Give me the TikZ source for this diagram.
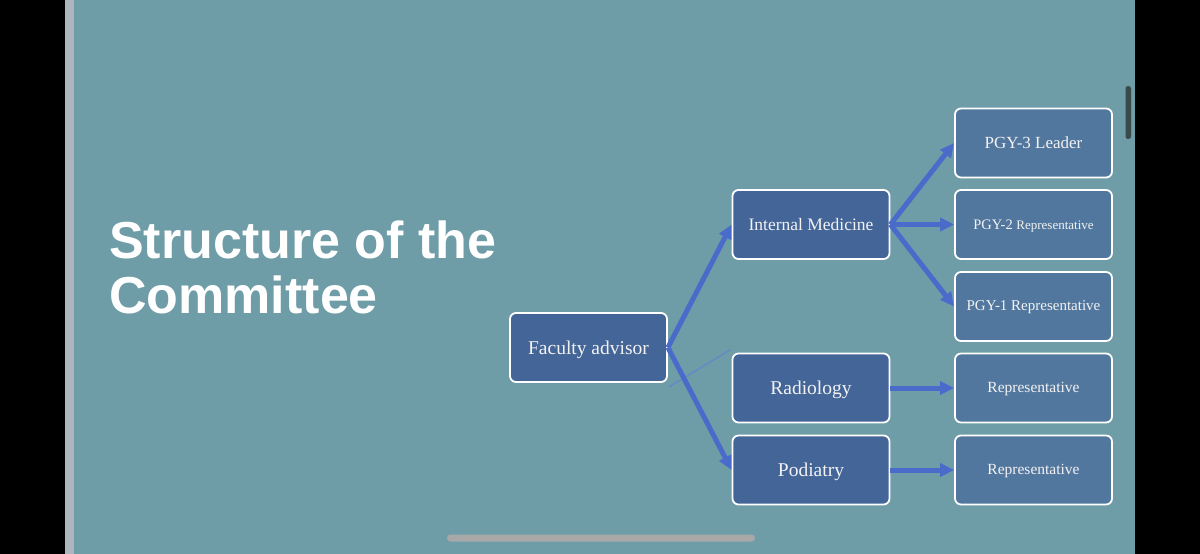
\documentclass[tikz,border=0pt]{standalone}
\usepackage{fontspec}
\setmainfont{Liberation Serif}
\newfontfamily\titlefont{Liberation Sans}
\usetikzlibrary{arrows.meta}
\definecolor{bg}{RGB}{110,157,168}
\definecolor{boxA}{RGB}{68,101,152}
\definecolor{boxB}{RGB}{82,119,158}
\definecolor{arr}{RGB}{74,107,201}
\definecolor{faint}{RGB}{100,137,200}
\definecolor{txt}{RGB}{242,242,242}
\definecolor{strip}{RGB}{174,181,188}
\definecolor{homebar}{RGB}{168,168,168}
\definecolor{scrollc}{RGB}{58,74,76}
\newcommand{\fs}[1]{\fontsize{#1}{#1}\selectfont}
\begin{document}
\begin{tikzpicture}[x=1pt,y=-1pt,
  box/.style={draw=white, line width=1.8pt, rounded corners=6pt,
    minimum width=157pt, minimum height=69pt, text=txt, inner sep=0pt},
  lbox/.style={box, fill=boxA},
  rbox/.style={box, fill=boxB},
  tb/.style={text height=#1pt, text depth=0pt},
  link/.style={draw=arr, line width=5pt, -{Triangle[length=14pt,width=13pt]}},
]
\useasboundingbox (0,0) rectangle (1200,554);
\fill[black] (0,0) rectangle (1200,554);
\fill[strip] (65,0) rectangle (74,554);
\fill[bg] (74,0) rectangle (1135,554);
\fill[scrollc, rounded corners=2.5pt] (1125.5,86) rectangle (1131,139);
\fill[homebar, rounded corners=3.5pt] (447,534.5) rectangle (755,541.5);

\node[anchor=base west, align=left, text=white, inner sep=0pt,
  font=\titlefont\bfseries\fontsize{52}{55}\selectfont] (title) at (109,313)
  {Structure of the\\Committee};

\node[lbox, tb=13, font=\fs{19.5}] (fa) at (588.5,347.5) {Faculty advisor};
\node[lbox, tb=12.4, font=\fs{17.5}] (im) at (811,224.5) {Internal Medicine};
\node[lbox, tb=13.4, font=\fs{19.5}] (rad) at (811,388) {Radiology};
\node[lbox, tb=13.4, font=\fs{19.5}] (pod) at (811,470) {Podiatry};

\node[rbox, tb=10.6, font=\fs{17}] (p3) at (1033.5,143) {PGY-3 Leader};
\node[rbox, tb=9.6, font=\fs{14.5}] (p2) at (1033.5,224.5) {{\fs{14.5}PGY-2 }{\fs{13}Representative}};
\node[rbox, tb=8.6, font=\fs{15}] (p1) at (1033.5,306.5) {PGY-1 Representative};
\node[rbox, tb=8.6, font=\fs{15.5}] (r1) at (1033.5,388) {Representative};
\node[rbox, tb=8.6, font=\fs{15.5}] (r2) at (1033.5,470) {Representative};

\draw[faint, line width=1.3pt] ([shift={(1,4)}]fa.south east) -- ([shift={(-1,-3)}]rad.north west);
\draw[link] (fa.east) -- (im.west);
\draw[link] (fa.east) -- (pod.west);
\draw[link] (im.east) -- (p3.west);
\draw[link] (im.east) -- (p2.west);
\draw[link] (im.east) -- (p1.west);
\draw[link] (rad.east) -- (r1.west);
\draw[link] (pod.east) -- (r2.west);
\end{tikzpicture}
\end{document}
